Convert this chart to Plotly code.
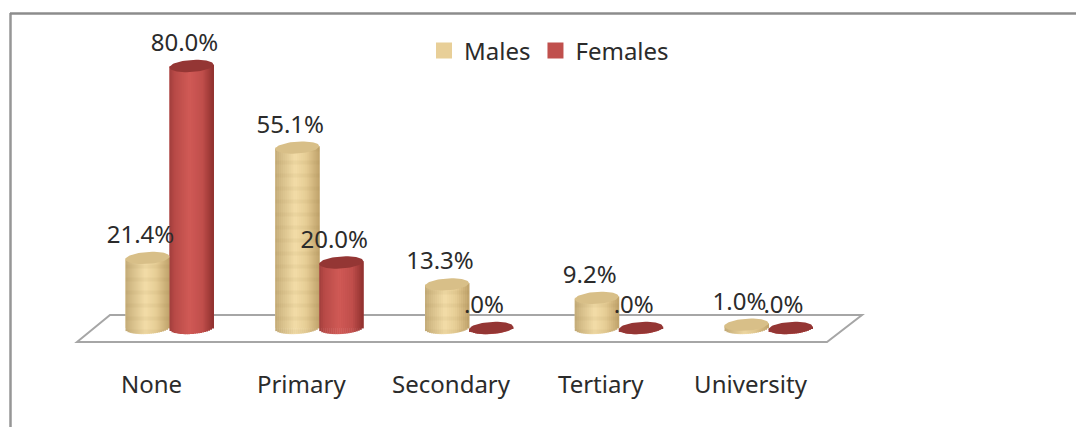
import math
import plotly.graph_objects as go

categories = ["None", "Primary", "Secondary", "Tertiary", "University"]
males = [21.4, 55.1, 13.3, 9.2, 1.0]
females = [80.0, 20.0, 0.0, 0.0, 0.0]
male_labels = ["21.4%", "55.1%", "13.3%", "9.2%", "1.0%"]
female_labels = ["80.0%", "20.0%", ".0%", ".0%", ".0%"]

W, H = 1076, 427
BOTTOM = 59                # px under the plot area
PX_X = 149.75              # px per category
PX_Y = 3.275               # px per percent
ZERO_X, ZERO_Y = 169.5, 328
BAR = 44.0 / PX_X          # cylinder width in x units
RY = 6.0 / PX_Y            # cap half height
TILT = 1.4 / PX_Y          # cap rises to the right
N = 22

FONT = "Noto Sans"
FS = 24
TXT = "#2b2b2b"

tan_stops = [(0, "#c3ab78"), (0.12, "#d3bb86"), (0.45, "#f3dda8"), (0.7, "#e6cd95"), (1, "#bfa26a")]
red_stops = [(0, "#a03e3c"), (0.12, "#b84a47"), (0.45, "#d05a56"), (0.75, "#c04e4b"), (1, "#8e302e")]


def mix(stops, t):
    for (a, ca), (b, cb) in zip(stops, stops[1:]):
        if t <= b:
            f = (t - a) / (b - a)
            va = [int(ca[i:i + 2], 16) for i in (1, 3, 5)]
            vb = [int(cb[i:i + 2], 16) for i in (1, 3, 5)]
            return "rgb(%d,%d,%d)" % tuple(round(p + (q - p) * f) for p, q in zip(va, vb))
    return stops[-1][1]


def cylinder(values, side, stops, cap, textured):
    xs = list(range(len(values)))
    out = []
    step = BAR / N
    for k in range(N):
        u = (k + 0.5) / N * 2 - 1
        arc = RY * math.sqrt(1 - u * u)
        lift = TILT * u
        bar = dict(
            x=xs,
            base=[lift - arc] * len(values),
            y=[v + arc for v in values],
            offset=BAR * (k / N) - (BAR if side < 0 else 0),
            width=step * 1.25,
            marker=dict(color=mix(stops, (k + 0.5) / N), line_width=0),
            showlegend=False,
            hoverinfo="skip",
        )
        if textured:
            bar["marker"]["pattern"] = dict(shape="-", size=13, solidity=0.3, fgcolor="rgba(140,100,45,0.07)",
                                            bgcolor=mix(stops, (k + 0.5) / N), fillmode="replace")
        out.append(go.Bar(**bar))
    for i, v in enumerate(values):
        cx = i + side * BAR / 2
        px, py = [], []
        for d in range(0, 361, 6):
            a = math.radians(d)
            px.append(cx + BAR / 2 * math.cos(a))
            py.append(v + RY * math.sin(a) + TILT * math.cos(a))
        out.append(go.Scatter(x=px, y=py, mode="lines", fill="toself", fillcolor=cap,
                              line=dict(width=0), showlegend=False, hoverinfo="skip"))
    return out


fig = go.Figure()
xs = list(range(5))
fig.add_trace(go.Bar(x=xs, y=males, name="Males", offset=-BAR, width=BAR, showlegend=False,
                     marker=dict(color="#e8cf98", line_width=0), hoverinfo="skip"))
fig.add_trace(go.Bar(x=xs, y=females, name="Females", offset=0, width=BAR, showlegend=False,
                     marker=dict(color="#c0504d", line_width=0), hoverinfo="skip"))
for t in cylinder(males, -1, tan_stops, "#d8bf88", True):
    fig.add_trace(t)
for t in cylinder(females, 1, red_stops, "#943634", False):
    fig.add_trace(t)

shift_x = -7 / PX_X
shift_y = 21 / PX_Y
fig.add_trace(go.Scatter(x=[i - BAR / 2 + shift_x for i in xs], y=[v + shift_y for v in males],
                         text=male_labels, mode="text", textposition="middle center",
                         textfont=dict(family=FONT, size=FS, color=TXT), showlegend=False, hoverinfo="skip"))
fig.add_trace(go.Scatter(x=[i + BAR / 2 + shift_x for i in xs], y=[v + shift_y for v in females],
                         text=female_labels, mode="text", textposition="middle center",
                         textfont=dict(family=FONT, size=FS, color=TXT), showlegend=False, hoverinfo="skip"))
fig.add_trace(go.Scatter(x=[None], y=[None], name="Males", mode="markers",
                         marker=dict(symbol="square", size=16, color="#e8cf98", line_width=0)))
fig.add_trace(go.Scatter(x=[None], y=[None], name="Females", mode="markers",
                         marker=dict(symbol="square", size=16, color="#c0504d", line_width=0)))


def fx(px):
    return px / W


def fy(py):
    return (H - BOTTOM - py) / (H - BOTTOM)


floor = [(77, 342), (110, 315), (862, 315), (827, 342)]
floor_path = "M " + " L ".join(f"{fx(a):.5f},{fy(b):.5f}" for a, b in floor) + " Z"
shapes = [
    dict(type="path", path=floor_path, xref="paper", yref="paper", layer="below",
         line=dict(color="#a6a6a6", width=2), fillcolor="white"),
    dict(type="line", xref="paper", yref="paper", x0=fx(10.5), x1=fx(10.5), y0=fy(13), y1=fy(427),
         line=dict(color="#969696", width=2.5), layer="below"),
    dict(type="line", xref="paper", yref="paper", x0=fx(10), x1=fx(1076), y0=fy(13.5), y1=fy(13.5),
         line=dict(color="#8c8c8c", width=2.5), layer="below"),
]

fig.update_layout(
    width=W, height=H, margin=dict(l=0, r=0, t=0, b=BOTTOM),
    paper_bgcolor="white", plot_bgcolor="white",
    barmode="overlay", shapes=shapes,
    font=dict(family=FONT, size=FS, color=TXT),
    legend=dict(orientation="h", x=fx(424), y=fy(51), xanchor="left", yanchor="middle",
                font=dict(family=FONT, size=FS, color=TXT), bgcolor="rgba(0,0,0,0)", itemwidth=30),
    xaxis=dict(range=[-ZERO_X / PX_X, (W - ZERO_X) / PX_X], tickmode="array",
               tickvals=[i - 0.12 for i in xs], ticktext=categories, showgrid=False, zeroline=False,
               showline=False, ticks="", tickfont=dict(family=FONT, size=FS, color=TXT)),
    yaxis=dict(range=[-(H - BOTTOM - ZERO_Y) / PX_Y, ZERO_Y / PX_Y], visible=False),
)

fig.write_html("out.html", post_script="document.body.style.margin='0';",
               config=dict(displayModeBar=False))
